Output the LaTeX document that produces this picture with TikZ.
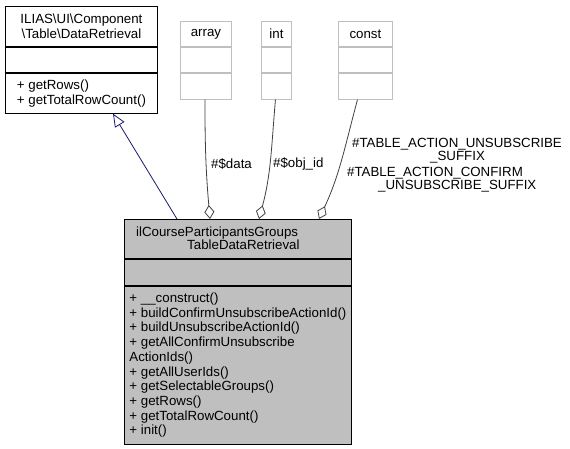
\documentclass[tikz,border=0pt]{standalone}
\usepackage{fontspec}
\setmainfont{Liberation Sans}
\usetikzlibrary{arrows.meta}
\definecolor{umlgray}{HTML}{BFBFBF}
\definecolor{edgegray}{HTML}{404040}
\definecolor{inhblue}{HTML}{191970}
\begin{document}
\begin{tikzpicture}[x=1pt,y=-1pt,
  every node/.style={font=\fontsize{13.3}{14.7}\selectfont},
  part/.style={draw,rectangle,anchor=north west,inner sep=0pt,align=left,line width=0.9pt},
  typepart/.style={part,draw=umlgray},
  txt/.style={inner sep=0pt,align=left,font=\fontsize{13.3}{13}\selectfont},
  usage/.style={draw=edgegray,line width=0.8pt,-{Diamond[open,length=14pt,width=10pt]}},
  inherit/.style={draw=inhblue,line width=0.8pt,-{Triangle[open,length=13pt,width=11pt]}}]
\useasboundingbox (0,0) rectangle (570,448);
\node [part,align=center,minimum width=152,minimum height=40] (drname) at (5,6)
  {ILIAS\textbackslash UI\textbackslash Component\\\textbackslash Table\textbackslash DataRetrieval};
\node [part,minimum width=152,minimum height=25] (drattr) at (drname.south west) {};
\node [part,minimum width=152,minimum height=40] (drops) at (drattr.south west)
  {+ getRows()\\+ getTotalRowCount()};
\node [typepart,minimum width=51,minimum height=25] (arrname) at (180,21) {array};
\node [typepart,minimum width=51,minimum height=25] (arrattr) at (arrname.south west) {};
\node [typepart,minimum width=51,minimum height=26] (arrops) at (arrattr.south west) {};
\node [typepart,minimum width=30,minimum height=25] (intname) at (261,21) {int};
\node [typepart,minimum width=30,minimum height=25] (intattr) at (intname.south west) {};
\node [typepart,minimum width=30,minimum height=26] (intops) at (intattr.south west) {};
\node [typepart,minimum width=54,minimum height=25] (constname) at (338,21) {const};
\node [typepart,minimum width=54,minimum height=25] (constattr) at (constname.south west) {};
\node [typepart,minimum width=54,minimum height=26] (constops) at (constattr.south west) {};
\node [part,fill=umlgray,minimum width=227,minimum height=39] (mainname) at (124,219) {};
\node [txt,anchor=west] (maintitle) at (136,238.5)
  {ilCourseParticipantsGroups\\\hspace*{51pt}TableDataRetrieval};
\node [part,fill=umlgray,minimum width=227,minimum height=26] (mainattr) at (mainname.south west) {};
\node [part,fill=umlgray,minimum width=227,minimum height=158] (mainops) at (mainattr.south west)
  {+ \_\_construct()\\+ buildConfirmUnsubscribeActionId()\\+ buildUnsubscribeActionId()\\
   + getAllConfirmUnsubscribe\\ActionIds()\\+ getAllUserIds()\\+ getSelectableGroups()\\
   + getRows()\\+ getTotalRowCount()\\+ init()};
\node [txt,anchor=west] (datalbl) at (211,164) {\#\$data};
\node [txt,anchor=west] (objlbl) at (273,164) {\#\$obj\_id};
\node [txt,anchor=north west] (suffixlbl) at (352,138)
  {\#TABLE\_ACTION\_UNSUBSCRIBE\\\hspace*{78pt}\_SUFFIX};
\node [txt,anchor=north west] (confirmlbl) at (347,167)
  {\#TABLE\_ACTION\_CONFIRM\\\hspace*{31pt}\_UNSUBSCRIBE\_SUFFIX};
\draw [inherit] ([xshift=53pt]mainname.north west) -- ([xshift=108pt]drops.south west);
\draw [usage] ([xshift=-1pt]arrops.south) to[out=-90,in=95] ([xshift=86pt]mainname.north west);
\draw [usage] ([xshift=-1pt]intops.south) to[out=-95,in=75] ([xshift=135pt]mainname.north west);
\draw [usage] ([xshift=-8pt]constops.south) to[out=-105,in=65] ([xshift=195pt]mainname.north west);
\end{tikzpicture}
\end{document}
